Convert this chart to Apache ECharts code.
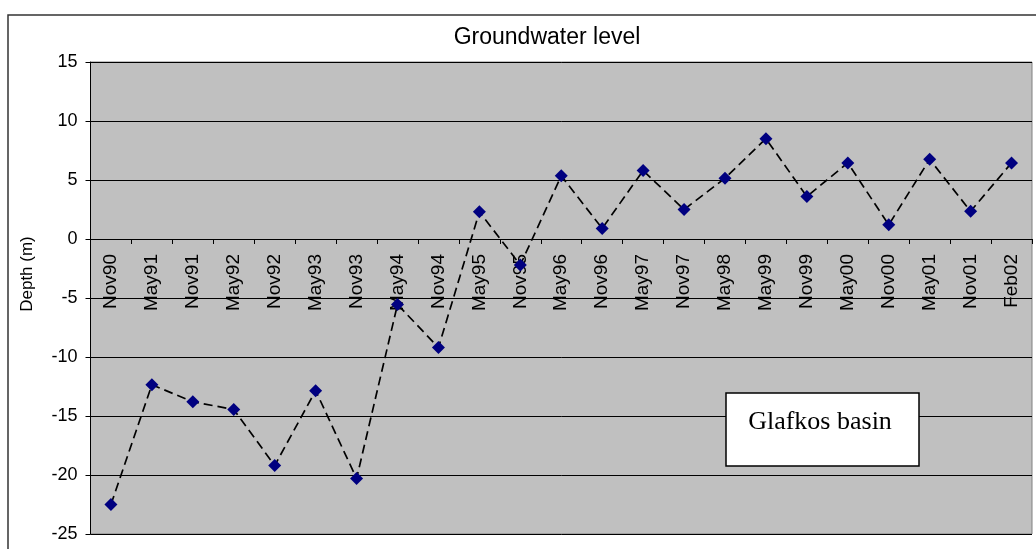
<!DOCTYPE html>
<html>
<head>
<meta charset="utf-8">
<script src="https://cdn.jsdelivr.net/npm/echarts@6/dist/echarts.min.js"></script>
<style>
html,body{margin:0;padding:0;background:#fff;}
#chart{width:1036px;height:549px;}
</style>
</head>
<body>
<div id="chart"></div>
<script>
var categories = ['Nov90','May91','Nov91','May92','Nov92','May93','Nov93','May94','Nov94','May95','Nov95','May96','Nov96','May97','Nov97','May98','May99','Nov99','May00','Nov00','May01','Nov01','Feb02'];
var depthValues = [-22.5,-12.35,-13.8,-14.45,-19.2,-12.85,-20.3,-5.55,-9.2,2.3,-2.2,5.35,0.9,5.8,2.5,5.15,8.5,3.6,6.45,1.2,6.75,2.35,6.45];
var yTicks = {min:-25, max:15, interval:5};
var titleText = 'Groundwater level';
var yAxisName = 'Depth (m)';
var boxText = 'Glafkos basin';

var FONT = 'Liberation Sans, Arial, sans-serif';
var chart = echarts.init(document.getElementById('chart'));
chart.setOption({
  animation: false,
  backgroundColor: '#ffffff',
  title: {
    text: titleText,
    left: 542, top: 21, textAlign: 'center',
    textStyle: {fontFamily: FONT, fontSize: 23, fontWeight: 'normal', color: '#000'}
  },
  grid: {
    left: 90.5, right: 4, top: 62, bottom: 15,
    outerBoundsMode: 'none', containLabel: false,
    show: true, backgroundColor: '#c0c0c0', borderColor: '#808080', borderWidth: 1
  },
  xAxis: {
    type: 'category',
    data: categories,
    boundaryGap: true,
    position: 'bottom',
    offset: -295,
    axisLine: {onZero: false, lineStyle: {color: '#000', width: 1}},
    axisTick: {show: true, length: 5, interval: 0, lineStyle: {color: '#000'}},
    axisLabel: {rotate: 90, interval: 0, margin: 15, fontSize: 19, color: '#000', fontFamily: FONT},
    splitLine: {show: false},
    z: 2
  },
  yAxis: {
    type: 'value',
    min: yTicks.min, max: yTicks.max, interval: yTicks.interval,
    axisLine: {show: true, lineStyle: {color: '#000', width: 1}},
    axisTick: {show: true, length: 5, inside: false, lineStyle: {color: '#000'}},
    axisLabel: {fontSize: 18, color: '#000', margin: 13, fontFamily: FONT},
    splitLine: {show: true, lineStyle: {color: '#000', width: 1}}
  },
  series: [{
    type: 'line',
    data: depthValues,
    symbol: 'diamond',
    symbolSize: 13,
    itemStyle: {color: '#000080'},
    lineStyle: {color: '#000', width: 1.7, type: [9, 5]},
    z: 3
  }],
  graphic: [
    {type: 'rect', shape: {x: 8, y: 15, width: 1100, height: 700}, style: {fill: 'none', stroke: '#333', lineWidth: 1.5}, z: -10, silent: true},
    {type: 'text', x: 27, y: 274, rotation: Math.PI / 2, style: {text: yAxisName, fontFamily: FONT, fontSize: 17, fill: '#000', textAlign: 'center', textVerticalAlign: 'middle'}},
    {type: 'rect', shape: {x: 726, y: 393, width: 193, height: 73}, style: {fill: '#fff', stroke: '#000', lineWidth: 1.5}, z: 100},
    {type: 'text', x: 820, y: 422, style: {text: boxText, fontFamily: 'Liberation Serif, Times New Roman, serif', fontSize: 26, fill: '#000', textAlign: 'center', textVerticalAlign: 'middle'}, z: 101}
  ]
});
</script>
</body>
</html>
